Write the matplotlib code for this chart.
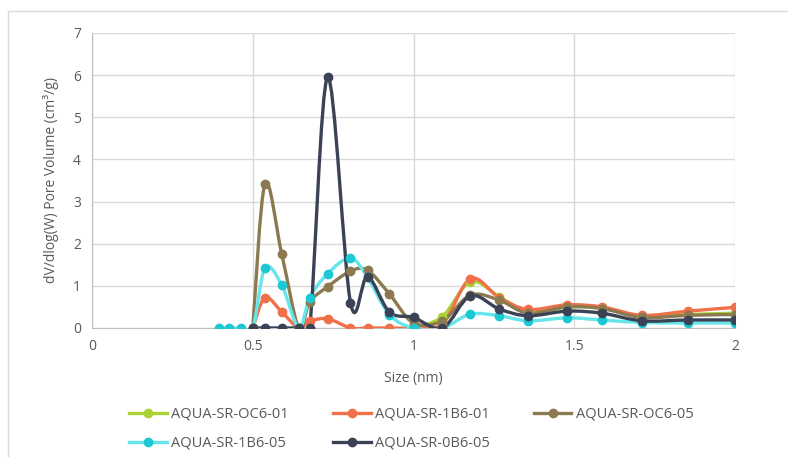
import matplotlib.pyplot as plt
import numpy as np
from matplotlib.lines import Line2D
from matplotlib.patches import PathPatch, Rectangle
from matplotlib.path import Path

# pore size (nm) and dV/dlog(W) per sample
size_nm = [0.394, 0.425, 0.463, 0.5, 0.538, 0.59, 0.643, 0.677, 0.733, 0.804,
           0.857, 0.925, 1.0, 1.09, 1.177, 1.267, 1.357, 1.478, 1.587, 1.711,
           1.854, 2.0]

oc6_01 = [None, None, None, None, None, None, None, None, None, None,
          None, None, 0, 0.27, 1.1, 0.74, 0.38, 0.5, 0.47, 0.28,
          0.32, 0.35]
sr1b6_01 = [None, None, None, 0, 0.72, 0.38, 0, 0.16, 0.22, 0,
            0, 0, 0, 0.1, 1.17, 0.72, 0.44, 0.55, 0.5, 0.3,
            0.4, 0.49]
oc6_05 = [None, None, None, 0, 3.42, 1.76, 0, 0.62, 0.98, 1.35,
          1.37, 0.81, 0.12, 0.17, 0.78, 0.66, 0.35, 0.5, 0.46, 0.25,
          0.3, 0.32]
sr1b6_05 = [0, 0, 0, 0, 1.42, 1.02, 0, 0.72, 1.29, 1.66,
            1.2, 0.32, 0, 0, 0.33, 0.29, 0.17, 0.24, 0.19, 0.13,
            0.12, 0.12]
ob6_05 = [None, None, None, 0, 0, 0, 0, 0, 5.95, 0.6,
          1.22, 0.38, 0.25, 0, 0.76, 0.45, 0.29, 0.4, 0.35, 0.17,
          0.19, 0.19]

series = [
    ("AQUA-SR-OC6-01", oc6_01, "#a9d134", "#a9d134"),
    ("AQUA-SR-1B6-01", sr1b6_01, "#f0704a", "#f0704a"),
    ("AQUA-SR-OC6-05", oc6_05, "#8b7a50", "#8b7a50"),
    ("AQUA-SR-1B6-05", sr1b6_05, "#66e6ea", "#1cc8d2"),
    ("AQUA-SR-0B6-05", ob6_05, "#3b4256", "#3b4256"),
]

TEXT = "#595959"
GRID = "#d9d9d9"


def smooth_path(x, y):
    # Excel-style smoothed line: Catmull-Rom segments as cubic Bezier curves
    pts = np.column_stack([x, y])
    verts = [pts[0]]
    codes = [Path.MOVETO]
    n = len(pts)
    for i in range(n - 1):
        p0 = pts[max(i - 1, 0)]
        p1 = pts[i]
        p2 = pts[i + 1]
        p3 = pts[min(i + 2, n - 1)]
        c1 = p1 + (p2 - p0) / 6.0
        c2 = p2 - (p3 - p1) / 6.0
        verts += [c1, c2, p2]
        codes += [Path.CURVE4] * 3
    return Path(verts, codes)


fig = plt.figure(figsize=(7.88, 4.57), dpi=100)
plt.rcParams["font.family"] = ["Open Sans", "DejaVu Sans"]
ax = fig.add_axes([0.1168, 0.2823, 0.8159, 0.6455])

fig.patches.append(Rectangle((8 / 788, -0.05), 1.0, 1 - 11 / 457 + 0.05,
                             transform=fig.transFigure, fill=False,
                             edgecolor=GRID, linewidth=1))

handles = {}
for label, vals, lcol, mcol in series:
    xs = [x for x, v in zip(size_nm, vals) if v is not None]
    ys = [v for v in vals if v is not None]
    ax.add_patch(PathPatch(smooth_path(xs, ys), fill=False, edgecolor=lcol,
                           linewidth=2.4, capstyle="round", joinstyle="round",
                           zorder=3, clip_on=True))
    ax.plot(xs, ys, linestyle="none", marker="o", markersize=6,
            color=mcol, zorder=4, clip_on=True)
    handles[label] = Line2D([], [], color=lcol, linewidth=2.4, marker="o",
                            markersize=6, markerfacecolor=mcol,
                            markeredgecolor=mcol, label=label)

ax.set_xlim(0, 2)
ax.set_ylim(0, 7)
ax.set_xticks([0, 0.5, 1, 1.5, 2])
ax.set_xticklabels(["0", "0.5", "1", "1.5", "2"])
ax.set_yticks(range(8))
ax.grid(True, color=GRID, linewidth=1)
ax.set_axisbelow(True)
for side in ("top", "right"):
    ax.spines[side].set_visible(False)
for side in ("left", "bottom"):
    ax.spines[side].set_color("#bfbfbf")
ax.tick_params(length=0, colors=TEXT, labelsize=10, pad=8)

ax.set_xlabel("Size (nm)", color=TEXT, fontsize=10, labelpad=12)
ax.set_ylabel("dV/dlog(W) Pore Volume (cm³/g)", color=TEXT, fontsize=10,
              labelpad=10)

# legend fills column by column; order so rows read like the original
order = ["AQUA-SR-OC6-01", "AQUA-SR-1B6-05", "AQUA-SR-1B6-01",
         "AQUA-SR-0B6-05", "AQUA-SR-OC6-05"]
fig.legend(handles=[handles[k] for k in order], loc="lower left", ncol=3,
           frameon=False, bbox_to_anchor=(0.147, -0.015), fontsize=10.5,
           labelcolor=TEXT, handlelength=2.6, handletextpad=0.3,
           columnspacing=3.0, labelspacing=0.95)

plt.savefig("out.png", dpi=100)
plt.close(fig)
